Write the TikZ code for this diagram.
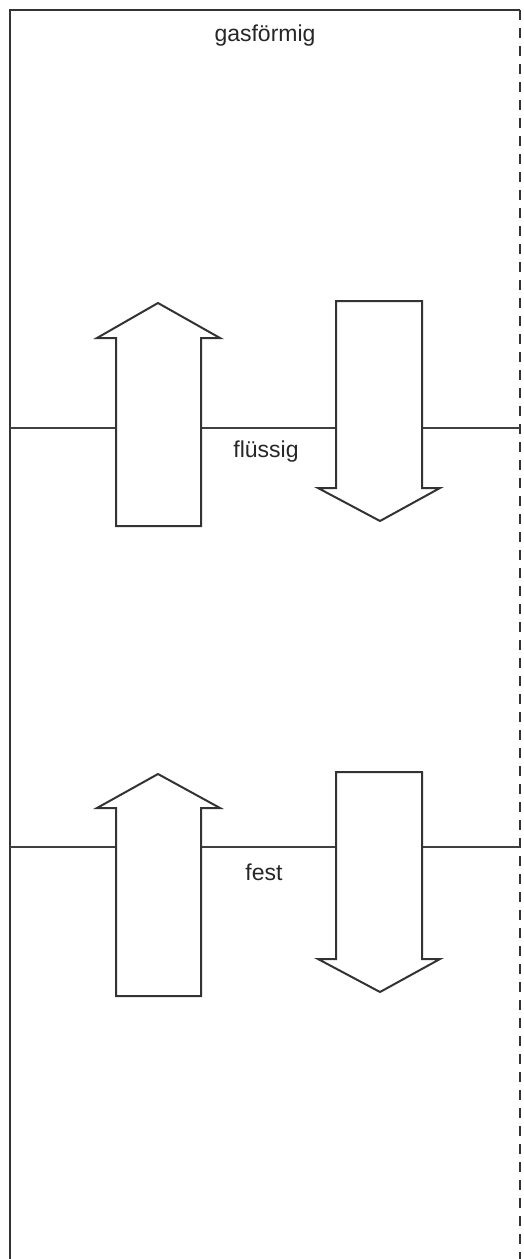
\documentclass[tikz,border=0pt]{standalone}
\usepackage{fontspec}
\setmainfont{Liberation Sans}

\tikzset{
  rahmen/.style={line width=2pt, draw=black!80},
  grenze/.style={line width=2pt, draw=black!75},
  pfeil/.style={line width=2pt, draw=black!80, fill=white, line join=miter},
  phase/.style={inner sep=0pt, text=black!85, font=\fontsize{23}{27}\selectfont}
}

\begin{document}
\begin{tikzpicture}
[x=1pt, y=-1pt]
\useasboundingbox (0,0) rectangle (524,1259);
% Rahmen
\draw [rahmen] (10,1259) -- (10,10) -- (520,10);
\draw [rahmen, dash pattern=on 10pt off 8pt] (520,10) -- (520,1259);
% Phasengrenzen
\draw [grenze] (10,428) -- (520,428);
\draw [grenze] (10,847) -- (520,847);
% Pfeile oben
\draw [pfeil] (116,526) -- (116,338) -- (97,338) -- (158,303) -- (220,338) -- (201,338) -- (201,526) -- cycle;
\draw [pfeil] (336,301) -- (336,488) -- (318,488) -- (380,521) -- (440,488) -- (422,488) -- (422,301) -- cycle;
% Pfeile unten
\draw [pfeil] (116,996) -- (116,808) -- (97,808) -- (158,774) -- (220,808) -- (201,808) -- (201,996) -- cycle;
\draw [pfeil] (336,772) -- (336,959) -- (318,959) -- (380,992) -- (440,959) -- (422,959) -- (422,772) -- cycle;
% Beschriftungen
\node (gas) [phase] at (265,36) {gasförmig};
\node (fluessig) [phase] at (266,452) {flüssig};
\node (fest) [phase] at (264,872) {fest};
\end{tikzpicture}
\end{document}
